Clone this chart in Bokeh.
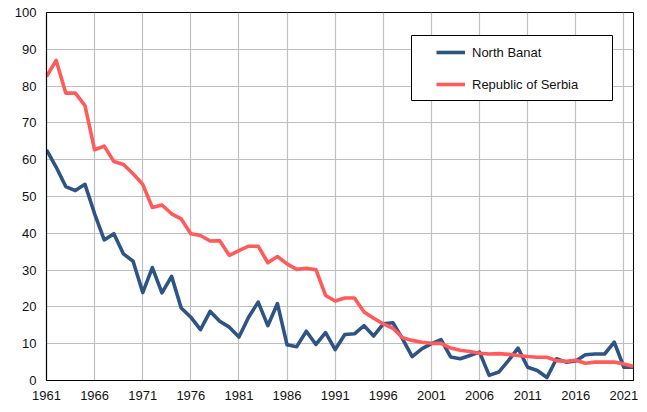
from bokeh.plotting import figure
from bokeh.models import Range1d, FixedTicker, Legend, LegendItem, BoxAnnotation
from bokeh.embed import file_html
from bokeh.resources import INLINE

years = list(range(1961, 2023))
north_banat = [62.7, 58.0, 52.7, 51.6, 53.3, 45.3, 38.2, 39.9, 34.4, 32.4,
               23.9, 30.7, 23.8, 28.3, 19.7, 17.2, 13.8, 18.8, 16.1, 14.5,
               11.8, 17.2, 21.3, 14.9, 20.9, 9.7, 9.2, 13.4, 9.8, 13.0,
               8.4, 12.5, 12.7, 14.9, 12.1, 15.4, 15.7, 11.3, 6.5, 8.6,
               10.0, 11.1, 6.4, 5.9, 6.8, 7.7, 1.4, 2.3, 5.4, 8.8,
               3.6, 2.7, 0.8, 5.9, 5.0, 5.3, 7.0, 7.2, 7.2, 10.4,
               3.6, 3.6]
serbia = [82.6, 87.0, 78.1, 78.1, 74.7, 62.7, 63.7, 59.5, 58.7, 56.2,
          53.3, 47.0, 47.7, 45.3, 43.9, 39.9, 39.4, 37.9, 38.0, 34.0,
          35.3, 36.5, 36.5, 32.0, 33.7, 31.7, 30.2, 30.5, 30.1, 23.1,
          21.6, 22.4, 22.4, 18.6, 16.9, 15.4, 14.2, 11.6, 10.9, 10.4,
          10.1, 10.1, 8.8, 8.2, 7.9, 7.4, 7.2, 7.3, 7.1, 6.8,
          6.5, 6.3, 6.3, 5.4, 5.2, 5.5, 4.7, 5.0, 5.0, 5.0,
          4.5, 3.8]
x_ticks = list(range(1961, 2022, 5))
y_ticks = list(range(0, 101, 10))
series_names = ["North Banat", "Republic of Serbia"]

FONT = "Liberation Sans"

p = figure(width=638, height=408, output_backend="svg", toolbar_location=None,
           x_range=Range1d(1961, 2022), y_range=Range1d(0, 100),
           min_border_left=46, min_border_right=5, min_border_top=12, min_border_bottom=28)
p.background_fill_color = "white"
p.border_fill_color = "white"
p.outline_line_color = "black"
p.outline_line_width = 1

for ax in (p.xaxis[0], p.yaxis[0]):
    ax.major_tick_in = 0
    ax.major_tick_out = 0
    ax.minor_tick_in = 0
    ax.minor_tick_out = 0
    ax.axis_line_color = "black"
    ax.axis_line_width = 1.2
    ax.major_label_text_font = FONT
    ax.major_label_text_font_size = "13px"
    ax.major_label_text_color = "#111111"

p.xaxis[0].ticker = FixedTicker(ticks=x_ticks)
p.yaxis[0].ticker = FixedTicker(ticks=y_ticks)
p.xaxis[0].major_label_standoff = 10
p.yaxis[0].major_label_standoff = 10

p.xgrid[0].ticker = FixedTicker(ticks=x_ticks)
p.ygrid[0].ticker = FixedTicker(ticks=y_ticks)
for g in (p.xgrid[0], p.ygrid[0]):
    g.grid_line_color = "#BFBFBF"
    g.grid_line_width = 1.2

r1 = p.line(years, north_banat, line_color="#2E5486", line_width=3.6, line_join="round")
r2 = p.line(years, serbia, line_color="#FF5B5B", line_width=3.6, line_join="round")

box = BoxAnnotation(left=365, right=566, bottom=280, top=345,
                    left_units="screen", right_units="screen",
                    bottom_units="screen", top_units="screen",
                    fill_color="white", fill_alpha=1.0,
                    line_color="black", line_width=1, line_alpha=1.0)
p.add_layout(box)

legend = Legend(items=[LegendItem(label=series_names[0], renderers=[r1]),
                       LegendItem(label=series_names[1], renderers=[r2])],
                location=(384, 280), padding=6, margin=0, spacing=12,
                glyph_width=29, glyph_height=20, label_height=20, label_standoff=7,
                border_line_alpha=0, background_fill_alpha=0,
                label_text_font=FONT, label_text_font_size="13px",
                label_text_color="#111111")
p.add_layout(legend)

open("out.html", "w").write(file_html(p, INLINE))
